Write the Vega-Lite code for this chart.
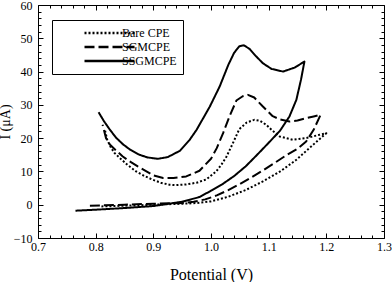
{
  "$schema": "https://vega.github.io/schema/vega-lite/v6.json",
  "width": 346,
  "height": 233,
  "autosize": "none",
  "padding": {"left": 38, "top": 5, "right": 8, "bottom": 44},
  "background": "white",
  "config": {"view": {"stroke": "black", "strokeWidth": 1}, "font": "Times New Roman, Liberation Serif, serif"},
  "data": {"values": [
    {"s": "SSGMCPE", "i": 1, "x": 0.765, "y": -1.8},
    {"s": "SSGMCPE", "i": 2, "x": 0.80, "y": -1.5},
    {"s": "SSGMCPE", "i": 3, "x": 0.85, "y": -1.0},
    {"s": "SSGMCPE", "i": 4, "x": 0.90, "y": -0.4},
    {"s": "SSGMCPE", "i": 5, "x": 0.95, "y": 0.9},
    {"s": "SSGMCPE", "i": 6, "x": 0.98, "y": 2.3},
    {"s": "SSGMCPE", "i": 7, "x": 1.00, "y": 4.2},
    {"s": "SSGMCPE", "i": 8, "x": 1.02, "y": 6.2},
    {"s": "SSGMCPE", "i": 9, "x": 1.04, "y": 8.6},
    {"s": "SSGMCPE", "i": 10, "x": 1.06, "y": 11.5},
    {"s": "SSGMCPE", "i": 11, "x": 1.08, "y": 15.0},
    {"s": "SSGMCPE", "i": 12, "x": 1.10, "y": 18.6},
    {"s": "SSGMCPE", "i": 13, "x": 1.12, "y": 22.3},
    {"s": "SSGMCPE", "i": 14, "x": 1.136, "y": 26.5},
    {"s": "SSGMCPE", "i": 15, "x": 1.148, "y": 31.5},
    {"s": "SSGMCPE", "i": 16, "x": 1.156, "y": 37.5},
    {"s": "SSGMCPE", "i": 17, "x": 1.162, "y": 43.0},
    {"s": "SSGMCPE", "i": 18, "x": 1.145, "y": 41.2},
    {"s": "SSGMCPE", "i": 19, "x": 1.125, "y": 40.0},
    {"s": "SSGMCPE", "i": 20, "x": 1.105, "y": 40.8},
    {"s": "SSGMCPE", "i": 21, "x": 1.09, "y": 42.5},
    {"s": "SSGMCPE", "i": 22, "x": 1.077, "y": 44.8},
    {"s": "SSGMCPE", "i": 23, "x": 1.067, "y": 46.8},
    {"s": "SSGMCPE", "i": 24, "x": 1.057, "y": 47.9},
    {"s": "SSGMCPE", "i": 25, "x": 1.049, "y": 47.6},
    {"s": "SSGMCPE", "i": 26, "x": 1.04, "y": 45.6},
    {"s": "SSGMCPE", "i": 27, "x": 1.03, "y": 42.0},
    {"s": "SSGMCPE", "i": 28, "x": 1.015, "y": 35.5},
    {"s": "SSGMCPE", "i": 29, "x": 0.998, "y": 29.5},
    {"s": "SSGMCPE", "i": 30, "x": 0.975, "y": 22.5},
    {"s": "SSGMCPE", "i": 31, "x": 0.963, "y": 19.5},
    {"s": "SSGMCPE", "i": 32, "x": 0.946, "y": 16.2},
    {"s": "SSGMCPE", "i": 33, "x": 0.925, "y": 14.3},
    {"s": "SSGMCPE", "i": 34, "x": 0.908, "y": 13.8},
    {"s": "SSGMCPE", "i": 35, "x": 0.89, "y": 14.2},
    {"s": "SSGMCPE", "i": 36, "x": 0.876, "y": 15.0},
    {"s": "SSGMCPE", "i": 37, "x": 0.86, "y": 16.5},
    {"s": "SSGMCPE", "i": 38, "x": 0.847, "y": 18.2},
    {"s": "SSGMCPE", "i": 39, "x": 0.835, "y": 20.2},
    {"s": "SSGMCPE", "i": 40, "x": 0.824, "y": 22.7},
    {"s": "SSGMCPE", "i": 41, "x": 0.814, "y": 25.2},
    {"s": "SSGMCPE", "i": 42, "x": 0.805, "y": 27.8},

    {"s": "SGMCPE", "i": 1, "x": 0.79, "y": -0.3},
    {"s": "SGMCPE", "i": 2, "x": 0.85, "y": 0.0},
    {"s": "SGMCPE", "i": 3, "x": 0.90, "y": 0.3},
    {"s": "SGMCPE", "i": 4, "x": 0.95, "y": 0.5},
    {"s": "SGMCPE", "i": 5, "x": 0.97, "y": 0.9},
    {"s": "SGMCPE", "i": 6, "x": 0.99, "y": 1.6},
    {"s": "SGMCPE", "i": 7, "x": 1.01, "y": 2.8},
    {"s": "SGMCPE", "i": 8, "x": 1.03, "y": 4.4},
    {"s": "SGMCPE", "i": 9, "x": 1.05, "y": 6.2},
    {"s": "SGMCPE", "i": 10, "x": 1.07, "y": 8.2},
    {"s": "SGMCPE", "i": 11, "x": 1.09, "y": 10.3},
    {"s": "SGMCPE", "i": 12, "x": 1.11, "y": 12.5},
    {"s": "SGMCPE", "i": 13, "x": 1.13, "y": 14.8},
    {"s": "SGMCPE", "i": 14, "x": 1.15, "y": 16.8},
    {"s": "SGMCPE", "i": 15, "x": 1.165, "y": 19.0},
    {"s": "SGMCPE", "i": 16, "x": 1.178, "y": 22.5},
    {"s": "SGMCPE", "i": 17, "x": 1.19, "y": 27.0},
    {"s": "SGMCPE", "i": 18, "x": 1.178, "y": 26.5},
    {"s": "SGMCPE", "i": 19, "x": 1.165, "y": 26.0},
    {"s": "SGMCPE", "i": 20, "x": 1.15, "y": 25.3},
    {"s": "SGMCPE", "i": 21, "x": 1.136, "y": 25.0},
    {"s": "SGMCPE", "i": 22, "x": 1.12, "y": 25.6},
    {"s": "SGMCPE", "i": 23, "x": 1.107, "y": 26.6},
    {"s": "SGMCPE", "i": 24, "x": 1.09, "y": 29.5},
    {"s": "SGMCPE", "i": 25, "x": 1.075, "y": 32.2},
    {"s": "SGMCPE", "i": 26, "x": 1.064, "y": 33.0},
    {"s": "SGMCPE", "i": 27, "x": 1.055, "y": 32.6},
    {"s": "SGMCPE", "i": 28, "x": 1.044, "y": 31.3},
    {"s": "SGMCPE", "i": 29, "x": 1.032, "y": 26.5},
    {"s": "SGMCPE", "i": 30, "x": 1.021, "y": 21.5},
    {"s": "SGMCPE", "i": 31, "x": 1.01, "y": 17.0},
    {"s": "SGMCPE", "i": 32, "x": 1.0, "y": 13.8},
    {"s": "SGMCPE", "i": 33, "x": 0.98, "y": 10.2},
    {"s": "SGMCPE", "i": 34, "x": 0.957, "y": 8.5},
    {"s": "SGMCPE", "i": 35, "x": 0.935, "y": 8.0},
    {"s": "SGMCPE", "i": 36, "x": 0.917, "y": 8.0},
    {"s": "SGMCPE", "i": 37, "x": 0.9, "y": 8.8},
    {"s": "SGMCPE", "i": 38, "x": 0.888, "y": 10.0},
    {"s": "SGMCPE", "i": 39, "x": 0.873, "y": 11.5},
    {"s": "SGMCPE", "i": 40, "x": 0.859, "y": 13.0},
    {"s": "SGMCPE", "i": 41, "x": 0.847, "y": 14.5},
    {"s": "SGMCPE", "i": 42, "x": 0.836, "y": 16.2},
    {"s": "SGMCPE", "i": 43, "x": 0.825, "y": 18.0},
    {"s": "SGMCPE", "i": 44, "x": 0.818, "y": 20.0},
    {"s": "SGMCPE", "i": 45, "x": 0.812, "y": 24.0},

    {"s": "Bare CPE", "i": 1, "x": 0.81, "y": -0.5},
    {"s": "Bare CPE", "i": 2, "x": 0.85, "y": -0.3},
    {"s": "Bare CPE", "i": 3, "x": 0.90, "y": 0.0},
    {"s": "Bare CPE", "i": 4, "x": 0.95, "y": 0.3},
    {"s": "Bare CPE", "i": 5, "x": 0.975, "y": 0.5},
    {"s": "Bare CPE", "i": 6, "x": 1.0, "y": 1.0},
    {"s": "Bare CPE", "i": 7, "x": 1.03, "y": 2.4},
    {"s": "Bare CPE", "i": 8, "x": 1.06, "y": 4.4},
    {"s": "Bare CPE", "i": 9, "x": 1.09, "y": 7.0},
    {"s": "Bare CPE", "i": 10, "x": 1.12, "y": 10.0},
    {"s": "Bare CPE", "i": 11, "x": 1.148, "y": 13.5},
    {"s": "Bare CPE", "i": 12, "x": 1.177, "y": 18.0},
    {"s": "Bare CPE", "i": 13, "x": 1.19, "y": 20.0},
    {"s": "Bare CPE", "i": 14, "x": 1.2, "y": 21.5},
    {"s": "Bare CPE", "i": 15, "x": 1.188, "y": 21.0},
    {"s": "Bare CPE", "i": 16, "x": 1.165, "y": 20.0},
    {"s": "Bare CPE", "i": 17, "x": 1.142, "y": 19.5},
    {"s": "Bare CPE", "i": 18, "x": 1.119, "y": 20.5},
    {"s": "Bare CPE", "i": 19, "x": 1.105, "y": 22.5},
    {"s": "Bare CPE", "i": 20, "x": 1.096, "y": 24.0},
    {"s": "Bare CPE", "i": 21, "x": 1.085, "y": 25.2},
    {"s": "Bare CPE", "i": 22, "x": 1.075, "y": 25.5},
    {"s": "Bare CPE", "i": 23, "x": 1.062, "y": 24.7},
    {"s": "Bare CPE", "i": 24, "x": 1.049, "y": 22.7},
    {"s": "Bare CPE", "i": 25, "x": 1.038, "y": 18.5},
    {"s": "Bare CPE", "i": 26, "x": 1.027, "y": 14.5},
    {"s": "Bare CPE", "i": 27, "x": 1.018, "y": 12.0},
    {"s": "Bare CPE", "i": 28, "x": 1.009, "y": 10.0},
    {"s": "Bare CPE", "i": 29, "x": 0.992, "y": 7.6},
    {"s": "Bare CPE", "i": 30, "x": 0.975, "y": 6.6},
    {"s": "Bare CPE", "i": 31, "x": 0.957, "y": 6.1},
    {"s": "Bare CPE", "i": 32, "x": 0.94, "y": 5.9},
    {"s": "Bare CPE", "i": 33, "x": 0.928, "y": 6.0},
    {"s": "Bare CPE", "i": 34, "x": 0.913, "y": 6.6},
    {"s": "Bare CPE", "i": 35, "x": 0.899, "y": 7.5},
    {"s": "Bare CPE", "i": 36, "x": 0.885, "y": 8.6},
    {"s": "Bare CPE", "i": 37, "x": 0.87, "y": 10.0},
    {"s": "Bare CPE", "i": 38, "x": 0.855, "y": 12.0},
    {"s": "Bare CPE", "i": 39, "x": 0.842, "y": 14.0},
    {"s": "Bare CPE", "i": 40, "x": 0.833, "y": 15.5},
    {"s": "Bare CPE", "i": 41, "x": 0.827, "y": 17.0},
    {"s": "Bare CPE", "i": 42, "x": 0.82, "y": 19.5},
    {"s": "Bare CPE", "i": 43, "x": 0.816, "y": 22.5}
  ]},
  "layer": [
    {
      "mark": {"type": "line", "strokeCap": "butt", "strokeJoin": "round", "strokeWidth": 2, "color": "black"},
      "encoding": {
        "x": {
          "field": "x", "type": "quantitative",
          "scale": {"domain": [0.7, 1.3], "nice": false, "zero": false},
          "axis": {
            "orient": "bottom",
            "values": [0.7,0.72,0.74,0.76,0.78,0.8,0.82,0.84,0.86,0.88,0.9,0.92,0.94,0.96,0.98,1.0,1.02,1.04,1.06,1.08,1.1,1.12,1.14,1.16,1.18,1.2,1.22,1.24,1.26,1.28,1.3],
            "labelExpr": "abs(datum.value*10 - round(datum.value*10)) < 0.001 ? format(datum.value, '.1f') : ''",
            "tickSize": {"condition": {"test": "abs(datum.value*10 - round(datum.value*10)) < 0.001", "value": -5}, "value": -3},
            "tickColor": "black", "tickWidth": 1,
            "domain": false, "grid": false,
            "labelFont": "Times New Roman, Liberation Serif, serif", "labelFontSize": 12, "labelColor": "black",
            "labelPadding": 8, "labelOverlap": false, "labelFlush": false,
            "title": "Potential (V)", "titleFont": "Times New Roman, Liberation Serif, serif", "titleFontSize": 16,
            "titleFontWeight": "normal", "titleColor": "black", "titlePadding": 12
          }
        },
        "y": {
          "field": "y", "type": "quantitative",
          "scale": {"domain": [-10, 60], "nice": false, "zero": false},
          "axis": {
            "orient": "left",
            "values": [-10,-8,-6,-4,-2,0,2,4,6,8,10,12,14,16,18,20,22,24,26,28,30,32,34,36,38,40,42,44,46,48,50,52,54,56,58,60],
            "labelExpr": "datum.value % 10 == 0 ? format(datum.value, 'd') : ''",
            "tickSize": {"condition": {"test": "datum.value % 10 == 0", "value": -5}, "value": -3},
            "tickColor": "black", "tickWidth": 1,
            "domain": false, "grid": false,
            "labelFont": "Times New Roman, Liberation Serif, serif", "labelFontSize": 12, "labelColor": "black",
            "labelPadding": 11, "labelOverlap": false, "labelFlush": false,
            "title": "I (μA)", "titleFont": "Times New Roman, Liberation Serif, serif", "titleFontSize": 14,
            "titleFontWeight": "normal", "titleColor": "black", "titlePadding": 1
          }
        },
        "strokeDash": {
          "field": "s", "type": "nominal",
          "scale": {"domain": ["Bare CPE", "SGMCPE", "SSGMCPE"], "range": [[2, 2], [10, 4], [1, 0]]},
          "legend": {
            "orient": "none", "legendX": 14, "legendY": 15,
            "title": null, "strokeColor": "black", "padding": 6,
            "symbolType": "stroke", "symbolSize": 2500, "symbolStrokeWidth": 2.5,
            "symbolStrokeColor": "black", "clipHeight": 14, "symbolOffset": 25,
            "labelFont": "Times New Roman, Liberation Serif, serif", "labelFontSize": 12, "labelColor": "black",
            "labelOffset": -14, "rowPadding": 0
          }
        },
        "order": {"field": "i", "type": "quantitative"}
      }
    },
    {
      "mark": {"type": "line", "opacity": 0},
      "encoding": {
        "x": {
          "field": "x", "type": "quantitative",
          "scale": {"domain": [0.7, 1.3], "nice": false, "zero": false},
          "axis": {
            "orient": "top",
            "values": [0.7,0.72,0.74,0.76,0.78,0.8,0.82,0.84,0.86,0.88,0.9,0.92,0.94,0.96,0.98,1.0,1.02,1.04,1.06,1.08,1.1,1.12,1.14,1.16,1.18,1.2,1.22,1.24,1.26,1.28,1.3],
            "labels": false, "title": null, "domain": false, "grid": false,
            "tickSize": {"condition": {"test": "abs(datum.value*10 - round(datum.value*10)) < 0.001", "value": -5}, "value": -3},
            "tickColor": "black", "tickWidth": 1
          }
        },
        "y": {
          "field": "y", "type": "quantitative",
          "scale": {"domain": [-10, 60], "nice": false, "zero": false},
          "axis": {
            "orient": "right",
            "values": [-10,-8,-6,-4,-2,0,2,4,6,8,10,12,14,16,18,20,22,24,26,28,30,32,34,36,38,40,42,44,46,48,50,52,54,56,58,60],
            "labels": false, "title": null, "domain": false, "grid": false,
            "tickSize": {"condition": {"test": "datum.value % 10 == 0", "value": -5}, "value": -3},
            "tickColor": "black", "tickWidth": 1
          }
        },
        "detail": {"field": "s", "type": "nominal"},
        "order": {"field": "i", "type": "quantitative"}
      }
    }
  ],
  "resolve": {"axis": {"x": "independent", "y": "independent"}}
}
